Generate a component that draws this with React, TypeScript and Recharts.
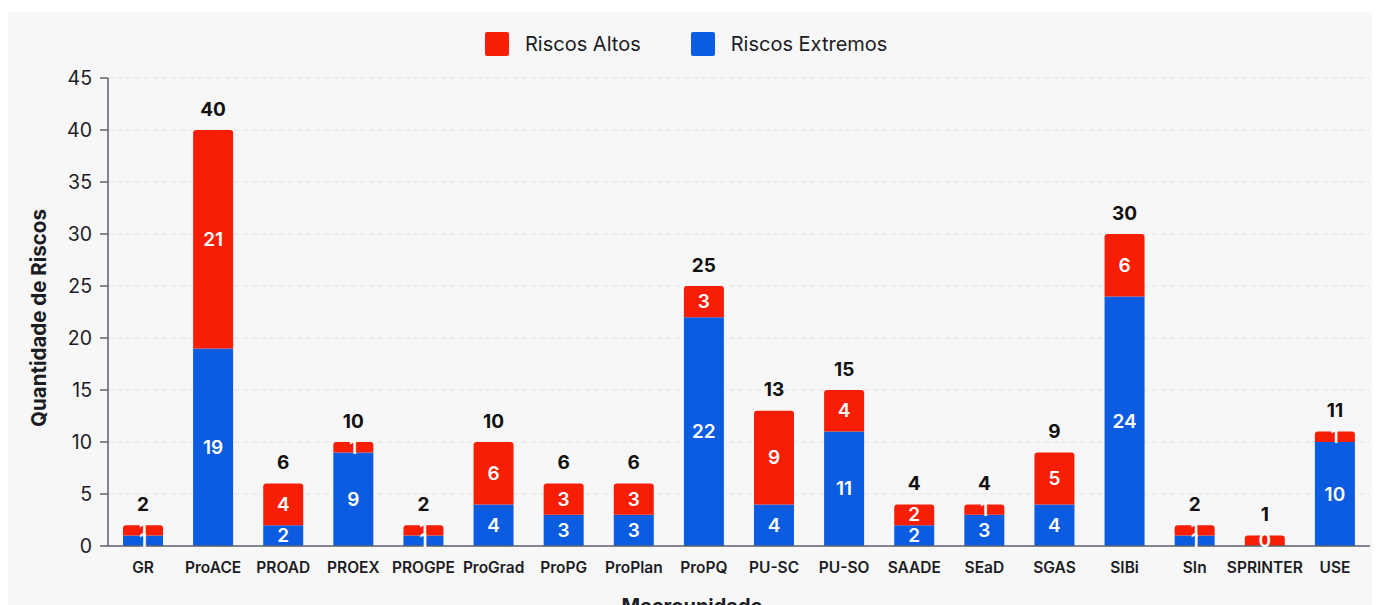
import { BarChart, Bar, XAxis, YAxis, CartesianGrid, LabelList, Label } from "recharts";

const macrounidades = [
  "GR", "ProACE", "PROAD", "PROEX", "PROGPE", "ProGrad", "ProPG", "ProPlan", "ProPQ",
  "PU-SC", "PU-SO", "SAADE", "SEaD", "SGAS", "SIBi", "SIn", "SPRINTER", "USE",
];
const riscosExtremos = [1, 19, 2, 9, 1, 4, 3, 3, 22, 4, 11, 2, 3, 4, 24, 1, 0, 10];
const riscosAltos = [1, 21, 4, 1, 1, 6, 3, 3, 3, 9, 4, 2, 1, 5, 6, 1, 1, 1];
const yTicks = [0, 5, 10, 15, 20, 25, 30, 35, 40, 45];

const RED = "#f81e06";
const BLUE = "#0b5ce0";
const TEXT = "#1c1c24";

const data = macrounidades.map((name, i) => ({
  name,
  extremos: riscosExtremos[i],
  altos: riscosAltos[i],
  total: riscosExtremos[i] + riscosAltos[i],
  // when there are no extreme risks the original shows the "0" inside the red segment
  altosLabel: riscosExtremos[i] === 0 ? riscosExtremos[i] : riscosAltos[i],
}));

const InnerLabel = (props: any) => {
  const { x, y, width, height, value } = props;
  if (!height || height <= 0) return null;
  return (
    <text
      x={x + width / 2}
      y={y + height / 2}
      fill="#fff"
      textAnchor="middle"
      dominantBaseline="central"
      fontSize={19}
      fontWeight={600}
    >
      {value}
    </text>
  );
};

const TotalLabel = (props: any) => {
  const { x, y, width, value } = props;
  return (
    <text
      x={x + width / 2}
      y={y - 21}
      fill="#111"
      textAnchor="middle"
      dominantBaseline="central"
      fontSize={19}
      fontWeight={700}
    >
      {value}
    </text>
  );
};

function LegendItem({ color, label }: { color: string; label: string }) {
  return (
    <div style={{ display: "flex", alignItems: "center" }}>
      <div style={{ width: 24, height: 24, background: color, borderRadius: 2 }} />
      <span style={{ marginLeft: 16, fontSize: 20, color: TEXT }}>{label}</span>
    </div>
  );
}

export default function App() {
  return (
    <div
      style={{
        position: "relative",
        marginTop: 4,
        width: 1372,
        height: 609,
        background: "#f7f7f7",
        fontFamily: "Inter, 'Noto Sans', sans-serif",
      }}
    >
      <div style={{ position: "absolute", top: 20, left: 477, display: "flex", gap: 50, zIndex: 1 }}>
        <LegendItem color={RED} label="Riscos Altos" />
        <LegendItem color={BLUE} label="Riscos Extremos" />
      </div>

      <BarChart
        width={1372}
        height={609}
        data={data}
        margin={{ top: 66, right: 10, bottom: 5, left: 0 }}
        style={{ fontFamily: "Inter, 'Noto Sans', sans-serif" }}
      >
        <CartesianGrid vertical={false} stroke="#e2e2e6" strokeDasharray="5 4" />
        <XAxis
          dataKey="name"
          interval={0}
          height={70}
          tickLine={false}
          axisLine={{ stroke: "#5c616b", strokeWidth: 1.5 }}
          tick={{ fill: TEXT, fontSize: 15.5, fontWeight: 600 }}
          tickMargin={10}
        >
          <Label
            content={() => (
              <text x={684} y={594} textAnchor="middle" dominantBaseline="central" fill={TEXT} fontSize={20} fontWeight={700}>
                Macrounidade
              </text>
            )}
          />
        </XAxis>
        <YAxis
          width={100}
          domain={[0, 45]}
          ticks={yTicks}
          interval={0}
          tickSize={8}
          tickMargin={8}
          axisLine={{ stroke: "#5c616b", strokeWidth: 1.5 }}
          tickLine={{ stroke: "#5c616b", strokeWidth: 1.5 }}
          tick={{ fill: TEXT, fontSize: 19.5 }}
        >
          <Label
            content={() => (
              <text
                x={30}
                y={306}
                transform="rotate(-90, 30, 306)"
                textAnchor="middle"
                dominantBaseline="central"
                fill={TEXT}
                fontSize={20.5}
                fontWeight={700}
              >
                Quantidade de Riscos
              </text>
            )}
          />
        </YAxis>
        <Bar dataKey="extremos" name="Riscos Extremos" stackId="r" fill={BLUE} barSize={40} isAnimationActive={false}>
          <LabelList dataKey="extremos" content={InnerLabel} />
        </Bar>
        <Bar
          dataKey="altos"
          name="Riscos Altos"
          stackId="r"
          fill={RED}
          barSize={40}
          radius={[3, 3, 0, 0]}
          isAnimationActive={false}
        >
          <LabelList dataKey="altosLabel" content={InnerLabel} />
          <LabelList dataKey="total" content={TotalLabel} />
        </Bar>
      </BarChart>
    </div>
  );
}
